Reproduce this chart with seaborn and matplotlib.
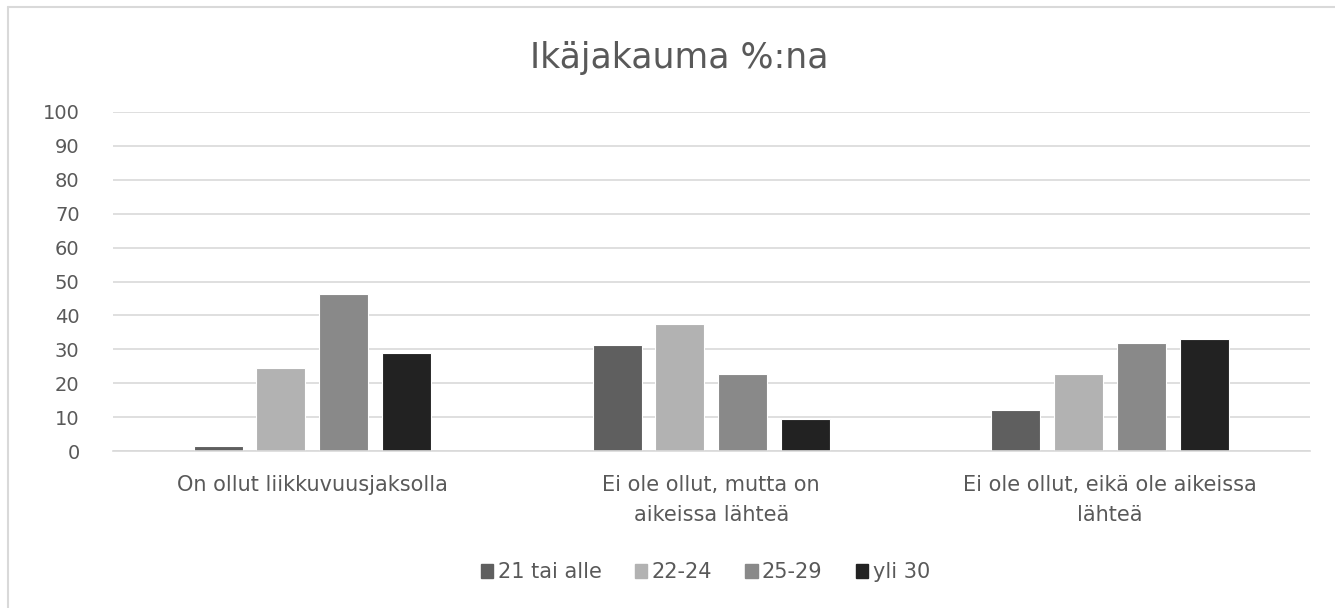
import pandas as pd
import seaborn as sns
from matplotlib import pyplot as plt
from matplotlib.lines import Line2D

# data
categories = ["On ollut liikkuvuusjaksolla",
              "Ei ole ollut, mutta on\naikeissa lähteä",
              "Ei ole ollut, eikä ole aikeissa\nlähteä"]
age_groups = ["21 tai alle", "22-24", "25-29", "yli 30"]
age_21 = [1.5, 31.2, 12.0]
age_22_24 = [24.4, 37.6, 22.6]
age_25_29 = [46.2, 22.6, 32.0]
age_30 = [28.8, 9.6, 33.1]
colors = ["#5f5f5f", "#b2b2b2", "#898989", "#222222"]

rows = []
for group, vals in zip(age_groups, [age_21, age_22_24, age_25_29, age_30]):
    for cat, v in zip(categories, vals):
        rows.append({"kategoria": cat, "ika": group, "osuus": v})
df = pd.DataFrame(rows)

sns.set_style("white")
plt.rcParams["font.family"] = ["DejaVu Sans"]
text_col = "#595959"

fig = plt.figure(figsize=(13.35, 6.08), dpi=100)
ax = fig.add_axes([0.0846, 0.258, 0.8964, 0.558])

sns.barplot(data=df, x="kategoria", y="osuus", hue="ika", order=categories,
            hue_order=age_groups, palette=colors, width=0.63, gap=0.22,
            edgecolor="white", linewidth=0.8, ax=ax, legend=True)

ax.set_ylim(0, 100)
ax.set_xlim(-0.5, 2.5)
ax.set_yticks(range(0, 101, 10))
ax.yaxis.grid(True, color="#d9d9d9", linewidth=1.2)
ax.set_axisbelow(True)
for s in ["top", "right", "left"]:
    ax.spines[s].set_visible(False)
ax.spines["bottom"].set_color("#d9d9d9")
ax.spines["bottom"].set_linewidth(1.2)
ax.set_xlabel("")
ax.set_ylabel("")
ax.tick_params(axis="both", length=0, labelsize=14, colors=text_col)
ax.tick_params(axis="x", pad=17, labelsize=15)
ax.tick_params(axis="y", pad=24)
for lbl in ax.get_xticklabels():
    lbl.set_linespacing(1.65)

fig.text(0.509, 0.905, "Ikäjakauma %:na", ha="center", va="center",
         fontsize=25, color=text_col)

handles = [plt.Rectangle((0, 0), 1, 1, color=c) for c in colors]
ax.legend(handles, age_groups, loc="center", bbox_to_anchor=(0.495, -0.357),
          ncol=4, frameon=False, fontsize=15, labelcolor=text_col,
          handlelength=0.6, handleheight=0.6, handletextpad=0.2,
          columnspacing=1.6)

# thin frame on top and left like the cropped chart area
fig.add_artist(Line2D([0.006, 0.006], [0, 0.989], transform=fig.transFigure,
                      color="#d9d9d9", linewidth=1.5))
fig.add_artist(Line2D([0.006, 1.0], [0.989, 0.989], transform=fig.transFigure,
                      color="#d9d9d9", linewidth=1.5))

fig.savefig("out.png", dpi=100)
